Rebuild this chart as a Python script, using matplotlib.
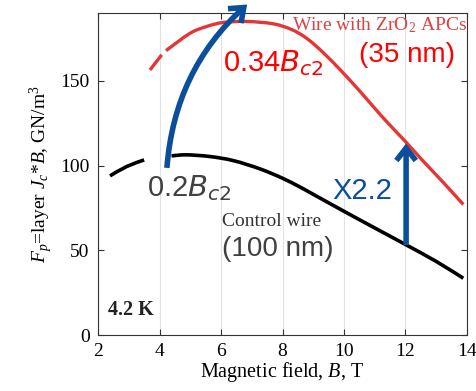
import numpy as np
import matplotlib
matplotlib.use("Agg")
import matplotlib.pyplot as plt
from matplotlib.path import Path
from matplotlib.patches import PathPatch

plt.rcParams['font.family'] = 'Liberation Serif'
plt.rcParams['mathtext.fontset'] = 'custom'
plt.rcParams['mathtext.rm'] = 'Liberation Serif'
plt.rcParams['mathtext.it'] = 'Liberation Serif:italic'
plt.rcParams['mathtext.bf'] = 'Liberation Serif:bold'

# control wire (100 nm), two pieces
ctrl_b1 = [2.39, 2.93, 3.5]
ctrl_f1 = [93.9, 99.4, 103.3]
ctrl_b2 = [4.39, 4.88, 5.64, 6.4, 7.27, 8.0, 8.57, 9.0, 10.08, 11.17, 12.04, 13.01, 13.88]
ctrl_f2 = [105.7, 106.3, 105.3, 102.9, 98.0, 92.5, 87.3, 83.0, 72.2, 61.5, 53.0, 43.3, 33.5]

# wire with ZrO2 APCs (35 nm), two pieces
zro_b1 = [3.69, 4.07]
zro_f1 = [156.4, 165.3]
zro_b2 = [4.21, 4.99, 5.53, 6.07, 6.84, 7.7, 8.3, 8.79, 9.33, 9.98, 10.63, 11.28, 11.98, 12.58, 13.23, 13.88]
zro_f2 = [167.8, 178.0, 182.0, 184.4, 185.0, 183.6, 180.2, 175.0, 166.5, 154.5, 141.5, 128.0, 114.5, 102.5, 90.0, 77.0]

xticks = [2, 4, 6, 8, 10, 12, 14]
yticks = [0, 50, 100, 150]

blue = '#0b4f9c'
red = '#e63535'


# smooth line through the points (Catmull-Rom drawn as cubic Bezier segments)
def smooth_line(ax, xs, ys, **kw):
    p = np.column_stack([xs, ys])
    verts = [p[0]]
    codes = [Path.MOVETO]
    n = len(p)
    for i in range(n - 1):
        p0 = p[i - 1] if i > 0 else p[i]
        p3 = p[i + 2] if i + 2 < n else p[i + 1]
        c1 = p[i] + (p[i + 1] - p0) / 6
        c2 = p[i + 1] - (p3 - p[i]) / 6
        verts += [c1, c2, p[i + 1]]
        codes += [Path.CURVE4] * 3
    ax.add_patch(PathPatch(Path(verts, codes), fill=False, capstyle='butt', **kw))


fig = plt.figure(figsize=(4.77, 3.91), dpi=100)
ax = fig.add_axes([0.2055, 0.1432, 0.7735, 0.8236])

smooth_line(ax, ctrl_b1, ctrl_f1, edgecolor='black', lw=2.6)
smooth_line(ax, ctrl_b2, ctrl_f2, edgecolor='black', lw=2.6)
smooth_line(ax, zro_b1, zro_f1, edgecolor=red, lw=2.4)
smooth_line(ax, zro_b2, zro_f2, edgecolor=red, lw=2.4)

ax.set_xlim(2, 14)
ax.set_ylim(0, 190)
ax.set_xticks(xticks)
ax.set_yticks(yticks)
ax.tick_params(direction='in', top=True, right=True, length=4, labelsize=14, pad=6,
               color='#333333')
ax.xaxis.grid(True, color='#e2e2e2', lw=0.8)
ax.set_axisbelow(True)
for s in ax.spines.values():
    s.set_color('#333333')

ax.set_xlabel('Magnetic field, $B$, T', fontsize=14.5, labelpad=0)
ax.set_ylabel('$F_p$=layer $J_c$*$B$, GN/m$^3$', fontsize=14, labelpad=4)

# annotations
ax.text(8.3, 183, 'Wire with ZrO$_2$ APCs', color='#e04040', fontsize=14,
        va='center', ha='left')
ax.text(12.05, 165, '(35 nm)', color='red', fontsize=20, family='Liberation Sans',
        va='center', ha='center')
ax.text(6.07, 160.5, '0.34$B_{c2}$', color='red', fontsize=21, family='Liberation Sans',
        va='center', ha='left', math_fontfamily='dejavusans')
ax.text(3.6, 86.8, '0.2$B_{c2}$', color='#404040', fontsize=21, family='Liberation Sans',
        va='center', ha='left', math_fontfamily='dejavusans')
ax.text(6.03, 66.7, 'Control wire', color='#333333', fontsize=14,
        va='center', ha='left')
ax.text(6.03, 50.8, '(100 nm)', color='#404040', fontsize=20, family='Liberation Sans',
        va='center', ha='left')
ax.text(9.61, 85, 'X2.2', color=blue, fontsize=21, family='Liberation Sans',
        va='center', ha='left')
ax.text(2.33, 14.8, '4.2 K', color='#222222', fontsize=14.5,
        weight='bold', va='center', ha='left')

# arrows
ax.annotate('', xy=(6.85, 195), xytext=(4.24, 98.6), annotation_clip=False,
            arrowprops=dict(arrowstyle='->,head_length=0.9,head_width=0.7', color=blue, lw=4,
                            connectionstyle='arc3,rad=-0.2', shrinkA=0, shrinkB=0,
                            capstyle='butt', joinstyle='miter'))
ax.annotate('', xy=(12.02, 113), xytext=(12.02, 53), annotation_clip=False,
            arrowprops=dict(arrowstyle='->,head_length=0.9,head_width=0.7', color=blue, lw=4,
                            shrinkA=0, shrinkB=0, capstyle='butt', joinstyle='miter'))

fig.savefig('out.png', dpi=100)
